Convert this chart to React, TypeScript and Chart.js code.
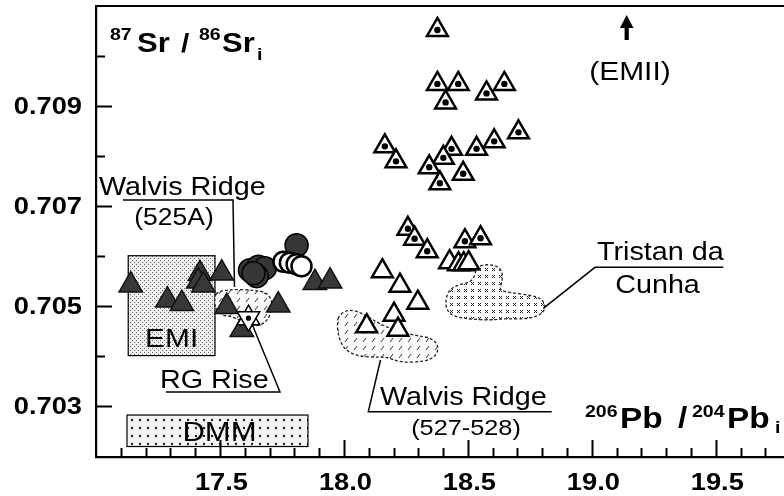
import React, { useEffect, useRef } from "react";
import { Chart, registerables } from "chart.js";
Chart.register(...registerables);

// ---------------- data ----------------
const xMajorTicks = [17.5, 18.0, 18.5, 19.0, 19.5];
const xMinorTicks = [17.1, 17.2, 17.3, 17.4, 17.6, 17.7, 17.8, 17.9, 18.1, 18.2, 18.3, 18.4, 18.6, 18.7, 18.8, 18.9, 19.1, 19.2, 19.3, 19.4, 19.6, 19.7];
const xTickLabels = ["17.5", "18.0", "18.5", "19.0", "19.5"];
const yMajorTicks = [0.703, 0.705, 0.707, 0.709];
const yMinorTicks = [0.704, 0.706, 0.708, 0.71];
const yTickLabels = ["0.703", "0.705", "0.707", "0.709"];

// Walvis Ridge 525A (filled triangles)
const filledTriX = [17.14, 17.288, 17.346, 17.419, 17.413, 17.433, 17.507, 17.527, 17.735, 17.588, 17.883, 17.944];
const filledTriY = [0.70541, 0.70511, 0.70504, 0.70564, 0.70549, 0.70541, 0.70565, 0.70498, 0.70501, 0.70452, 0.70546, 0.70549];
// dark circles
const darkCircX = [17.809, 17.621, 17.655, 17.681, 17.648, 17.635];
const darkCircY = [0.70621, 0.70571, 0.70578, 0.70575, 0.70559, 0.70565];
// open circles
const openCircX = [17.756, 17.782, 17.809, 17.829];
const openCircY = [0.70588, 0.70586, 0.70583, 0.70579];
// open triangles
const openTriX = [18.155, 18.226, 18.298, 18.202, 18.092, 18.218, 18.426, 18.462, 18.483, 18.503];
const openTriY = [0.70569, 0.7054, 0.70506, 0.70482, 0.70459, 0.70452, 0.70587, 0.70583, 0.70583, 0.70585];
// open triangles with dot
const dotTriX = [18.377, 18.377, 18.461, 18.41, 18.575, 18.647, 18.704, 18.165, 18.21, 18.434, 18.401, 18.535, 18.606, 18.344, 18.481, 18.387, 18.258, 18.285, 18.336, 18.488, 18.551];
const dotTriY = [0.71052, 0.70944, 0.70944, 0.70907, 0.70925, 0.70944, 0.70847, 0.70819, 0.70789, 0.70814, 0.70796, 0.70814, 0.70829, 0.70777, 0.70764, 0.70745, 0.70654, 0.70634, 0.70609, 0.70629, 0.70635];
// RG Rise star
const starX = [17.615];
const starY = [0.70475];

// fields
const emiX = [17.13, 17.48];
const emiY = [0.704, 0.706];
const dmmX = [17.125, 17.855];
const dmmY = [0.70218, 0.70281];
const walvisBlobX = [17.98, 18.02, 18.074, 18.135, 18.202, 18.282, 18.356, 18.383, 18.37, 18.323, 18.229, 18.175, 18.121, 18.054, 18.0, 17.976, 17.973];
const walvisBlobY = [0.70481, 0.70493, 0.70485, 0.70466, 0.70451, 0.70441, 0.70435, 0.70418, 0.70398, 0.70388, 0.70386, 0.70397, 0.70397, 0.70399, 0.70413, 0.70441, 0.70468];
const rgBlobX = [17.49, 17.556, 17.637, 17.691, 17.711, 17.707, 17.691, 17.657, 17.61, 17.556, 17.503, 17.479, 17.479];
const rgBlobY = [0.70528, 0.70533, 0.70531, 0.70526, 0.70508, 0.70488, 0.7047, 0.70459, 0.70461, 0.70478, 0.70481, 0.70498, 0.70518];
const tristanBlobX = [18.538, 18.578, 18.619, 18.639, 18.639, 18.625, 18.672, 18.753, 18.793, 18.813, 18.806, 18.78, 18.726, 18.645, 18.592, 18.511, 18.444, 18.414, 18.41, 18.423, 18.457, 18.504, 18.524, 18.531];
const tristanBlobY = [0.70578, 0.70583, 0.70579, 0.70568, 0.70548, 0.70531, 0.70526, 0.70521, 0.70515, 0.70501, 0.70488, 0.70479, 0.70473, 0.70474, 0.70471, 0.70473, 0.70478, 0.70491, 0.70511, 0.70531, 0.70541, 0.70546, 0.70555, 0.70568];

const FONT = '"Liberation Sans", Arial, Helvetica, sans-serif';
const SX = 1.15;

const pts = (xs: number[], ys: number[]) => xs.map((x, i) => ({ x, y: ys[i] }));
const near = (a: number, b: number) => Math.abs(a - b) < 1e-7;

function drawText(ctx: CanvasRenderingContext2D, text: string, x: number, y: number, size: number, bold: boolean, align: string, sx = SX) {
  ctx.save();
  ctx.font = `${bold ? "bold " : ""}${size}px ${FONT}`;
  ctx.textBaseline = "alphabetic";
  ctx.textAlign = "left";
  const w = ctx.measureText(text).width * sx;
  const x0 = align === "center" ? x - w / 2 : align === "right" ? x - w : x;
  ctx.translate(x0, y);
  ctx.scale(sx, 1);
  ctx.fillStyle = "#000";
  ctx.fillText(text, 0, 0);
  ctx.restore();
}

function makePattern(ctx: CanvasRenderingContext2D, w: number, h: number, draw: (g: CanvasRenderingContext2D) => void) {
  const c = document.createElement("canvas");
  c.width = w;
  c.height = h;
  const g = c.getContext("2d")!;
  draw(g);
  return ctx.createPattern(c, "repeat")!;
}

function blobPath(ctx: CanvasRenderingContext2D, p: { x: number; y: number }[]) {
  const n = p.length;
  const mid = (a: any, b: any) => ({ x: (a.x + b.x) / 2, y: (a.y + b.y) / 2 });
  ctx.beginPath();
  const m0 = mid(p[n - 1], p[0]);
  ctx.moveTo(m0.x, m0.y);
  for (let i = 0; i < n; i++) {
    const m = mid(p[i], p[(i + 1) % n]);
    ctx.quadraticCurveTo(p[i].x, p[i].y, m.x, m.y);
  }
  ctx.closePath();
}

const fieldsPlugin = {
  id: "fields",
  beforeDatasetsDraw(chart: any) {
    const { ctx, chartArea, scales } = chart;
    const px = (v: number) => scales.x.getPixelForValue(v);
    const py = (v: number) => scales.y.getPixelForValue(v);
    ctx.save();
    ctx.beginPath();
    ctx.rect(chartArea.left, chartArea.top, chartArea.width, chartArea.height);
    ctx.clip();

    const emiPat = makePattern(ctx, 4, 4, (g) => {
      g.fillStyle = "#eeeeee"; g.fillRect(0, 0, 4, 4);
      g.fillStyle = "#6a6a6a"; g.fillRect(0, 0, 1, 1); g.fillRect(2, 2, 1, 1);
    });
    const dmmPat = makePattern(ctx, 8, 8, (g) => {
      g.fillStyle = "#f4f4f4"; g.fillRect(0, 0, 8, 8);
      g.fillStyle = "#222"; g.beginPath(); g.arc(4, 4, 1.2, 0, Math.PI * 2); g.fill();
    });
    const crossPat = makePattern(ctx, 7, 7, (g) => {
      g.fillStyle = "#fff"; g.fillRect(0, 0, 7, 7);
      g.fillStyle = "#222";
      g.fillRect(2, 2, 1, 1); g.fillRect(3, 3, 1, 1); g.fillRect(4, 4, 1, 1);
      g.fillRect(4, 2, 1, 1); g.fillRect(2, 4, 1, 1);
    });
    const hatchPat = makePattern(ctx, 9, 8, (g) => {
      g.fillStyle = "#fbfbfb"; g.fillRect(0, 0, 9, 8);
      g.strokeStyle = "#333"; g.lineWidth = 1;
      g.beginPath(); g.moveTo(3, 6); g.lineTo(6, 2); g.stroke();
    });

    // EMI box
    const ex0 = px(emiX[0]), ex1 = px(emiX[1]), ey0 = py(emiY[1]), ey1 = py(emiY[0]);
    ctx.fillStyle = emiPat;
    ctx.fillRect(ex0, ey0, ex1 - ex0, ey1 - ey0);
    ctx.strokeStyle = "#000"; ctx.lineWidth = 1.2;
    ctx.strokeRect(ex0, ey0, ex1 - ex0, ey1 - ey0);
    // DMM box
    const dx0 = px(dmmX[0]), dx1 = px(dmmX[1]), dy0 = py(dmmY[1]), dy1 = py(dmmY[0]);
    ctx.fillStyle = dmmPat;
    ctx.fillRect(dx0, dy0, dx1 - dx0, dy1 - dy0);
    ctx.strokeRect(dx0, dy0, dx1 - dx0, dy1 - dy0);

    const blobs: [number[], number[], CanvasPattern][] = [
      [walvisBlobX, walvisBlobY, hatchPat],
      [rgBlobX, rgBlobY, hatchPat],
      [tristanBlobX, tristanBlobY, crossPat],
    ];
    for (const [bx, by, pat] of blobs) {
      const p = bx.map((x, i) => ({ x: px(x), y: py(by[i]) }));
      blobPath(ctx, p);
      ctx.fillStyle = pat;
      ctx.fill();
      ctx.setLineDash([3, 2]);
      ctx.lineWidth = 1.3;
      ctx.strokeStyle = "#222";
      ctx.stroke();
      ctx.setLineDash([]);
    }
    ctx.restore();

    drawText(ctx, "EMI", (ex0 + ex1) / 2, 347, 26, false, "center");
    drawText(ctx, "DMM", (dx0 + dx1) / 2 + 2, 441, 27, false, "center");
  },
  afterDatasetsDraw(chart: any) {
    const { ctx, chartArea, scales } = chart;
    const xs = scales.x, ys = scales.y;
    ctx.save();
    // top frame line
    ctx.strokeStyle = "#000";
    ctx.lineWidth = 2.2;
    ctx.beginPath();
    ctx.moveTo(chartArea.left - 1, chartArea.top);
    ctx.lineTo(chartArea.right, chartArea.top);
    ctx.stroke();

    // inward tick marks
    ctx.lineWidth = 2;
    for (const t of ys.ticks) {
      const major = yMajorTicks.some((v) => near(v, t.value));
      const y = Math.round(ys.getPixelForValue(t.value)) + 0.5;
      ctx.beginPath();
      ctx.moveTo(chartArea.left, y);
      ctx.lineTo(chartArea.left + (major ? 16 : 9), y);
      ctx.stroke();
    }
    for (const t of xs.ticks) {
      const major = xMajorTicks.some((v) => near(v, t.value));
      const x = Math.round(xs.getPixelForValue(t.value)) + 0.5;
      ctx.beginPath();
      ctx.moveTo(x, chartArea.bottom);
      ctx.lineTo(x, chartArea.bottom - (major ? 17 : 9));
      ctx.stroke();
    }
    // tick labels
    yMajorTicks.forEach((v, i) => {
      drawText(ctx, yTickLabels[i], 82, ys.getPixelForValue(v) + 8.5, 23.5, true, "right", 1.16);
    });
    xMajorTicks.forEach((v, i) => {
      drawText(ctx, xTickLabels[i], xs.getPixelForValue(v) + 1.5, chartArea.bottom + 33, 23.5, true, "center", 1.16);
    });

    // axis titles
    drawText(ctx, "87", 110, 40, 17, true, "left");
    drawText(ctx, "Sr", 137, 51.7, 27, true, "left");
    drawText(ctx, "/", 181, 51.7, 26, true, "left");
    drawText(ctx, "86", 199, 40, 17, true, "left");
    drawText(ctx, "Sr", 222, 51.7, 27, true, "left");
    drawText(ctx, "i", 257, 60, 17, true, "left");

    drawText(ctx, "206", 585, 417, 17, true, "left");
    drawText(ctx, "Pb", 620, 428, 29, true, "left");
    drawText(ctx, "/", 678, 428, 29, true, "left");
    drawText(ctx, "204", 692, 417, 17, true, "left");
    drawText(ctx, "Pb", 727, 428, 29, true, "left");
    drawText(ctx, "i", 775, 433, 17, true, "left");

    // annotations
    ctx.lineWidth = 1.5;
    ctx.strokeStyle = "#000";
    drawText(ctx, "Walvis Ridge", 99, 195, 25, false, "left");
    drawText(ctx, "(525A)", 174, 225, 23, false, "center");
    ctx.beginPath();
    ctx.moveTo(123, 200); ctx.lineTo(233, 200); ctx.lineTo(234.5, 287);
    ctx.stroke();

    drawText(ctx, "RG Rise", 160, 388, 25, false, "left");
    ctx.beginPath();
    ctx.moveTo(166, 392); ctx.lineTo(280, 392); ctx.lineTo(252, 324);
    ctx.stroke();

    drawText(ctx, "Walvis Ridge", 380, 405, 25, false, "left");
    drawText(ctx, "(527-528)", 466, 435, 22, false, "center");
    ctx.beginPath();
    ctx.moveTo(551.7, 411.7); ctx.lineTo(368.3, 411.7); ctx.lineTo(380.5, 360);
    ctx.stroke();

    drawText(ctx, "Tristan da", 597, 260, 25, false, "left");
    drawText(ctx, "Cunha", 657.5, 293, 25, false, "center");
    ctx.beginPath();
    ctx.moveTo(723.3, 267.3); ctx.lineTo(595, 267.3); ctx.lineTo(543.3, 308.3);
    ctx.stroke();

    drawText(ctx, "(EMII)", 630, 80, 26, false, "center");
    // arrow
    ctx.fillStyle = "#000";
    ctx.beginPath();
    ctx.moveTo(626.7, 15); ctx.lineTo(633.5, 28); ctx.lineTo(628.8, 28); ctx.lineTo(628.8, 40);
    ctx.lineTo(624.6, 40); ctx.lineTo(624.6, 28); ctx.lineTo(619.9, 28); ctx.closePath();
    ctx.fill();
    ctx.restore();
  },
};

export default function App() {
  const ref = useRef<HTMLCanvasElement>(null);
  useEffect(() => {
    if (!ref.current) return;
    const tri = (data: any, r: number, fill: string, stroke: string, bw: number, order: number, rot = 0) => ({
      data, pointStyle: "triangle", pointRadius: r, pointBackgroundColor: fill, pointBorderColor: stroke,
      pointBorderWidth: bw, pointRotation: rot, order, showLine: false,
    });
    const circ = (data: any, r: number, fill: string, stroke: string, bw: number, order: number) => ({
      data, pointStyle: "circle", pointRadius: r, pointBackgroundColor: fill, pointBorderColor: stroke,
      pointBorderWidth: bw, order, showLine: false,
    });
    const chart = new Chart(ref.current, {
      type: "scatter",
      data: {
        datasets: [
          { label: "RG Rise dot", ...circ(pts(starX, starY), 2.6, "#000", "#000", 0, 0) },
          { label: "RG Rise star b", ...tri(pts(starX, starY), 13, "#fff", "#000", 1.5, 1, 180) },
          { label: "RG Rise star a", ...tri(pts(starX, starY), 13, "#fff", "#000", 1.5, 2, 0) },
          { label: "dot", ...circ(pts(dotTriX, dotTriY), 3.2, "#000", "#000", 0, 3) },
          { label: "dotted triangles", ...tri(pts(dotTriX, dotTriY), 12, "#fff", "#000", 2.5, 4) },
          { label: "open triangles", ...tri(pts(openTriX, openTriY), 12, "#fff", "#000", 2.5, 5) },
          { label: "open circles", ...circ(pts(openCircX, openCircY), 10, "#fff", "#000", 2.5, 6) },
          { label: "dark circles", ...circ(pts(darkCircX, darkCircY), 11.5, "#363636", "#000", 1.5, 7) },
          { label: "Walvis Ridge 525A", ...tri(pts(filledTriX, filledTriY), 13.5, "#383838", "#111", 1.5, 8) },
        ] as any,
      },
      options: {
        animation: false,
        responsive: false,
        events: [],
        layout: { autoPadding: false, padding: { left: 96, top: 6, right: 0, bottom: 39 } },
        plugins: { legend: { display: false }, tooltip: { enabled: false } },
        scales: {
          x: {
            type: "linear",
            min: 17.0,
            max: 19.775,
            grid: { display: false, drawTicks: false },
            border: { display: true, color: "#000", width: 2.2 },
            ticks: { display: false },
            afterBuildTicks: (s: any) => {
              s.ticks = [...xMajorTicks, ...xMinorTicks].sort((a, b) => a - b).map((v) => ({ value: v }));
            },
          },
          y: {
            type: "linear",
            min: 0.70197,
            max: 0.711,
            grid: { display: false, drawTicks: false },
            border: { display: true, color: "#000", width: 2.2 },
            ticks: { display: false },
            afterBuildTicks: (s: any) => {
              s.ticks = [...yMajorTicks, ...yMinorTicks].sort((a, b) => a - b).map((v) => ({ value: v }));
            },
          },
        },
      },
      plugins: [fieldsPlugin],
    });
    return () => chart.destroy();
  }, []);
  return (
    <div style={{ position: "absolute", left: 0, top: 0, width: 784, height: 496, background: "#fff" }}>
      <canvas ref={ref} width={784} height={496} style={{ display: "block" }} />
    </div>
  );
}
